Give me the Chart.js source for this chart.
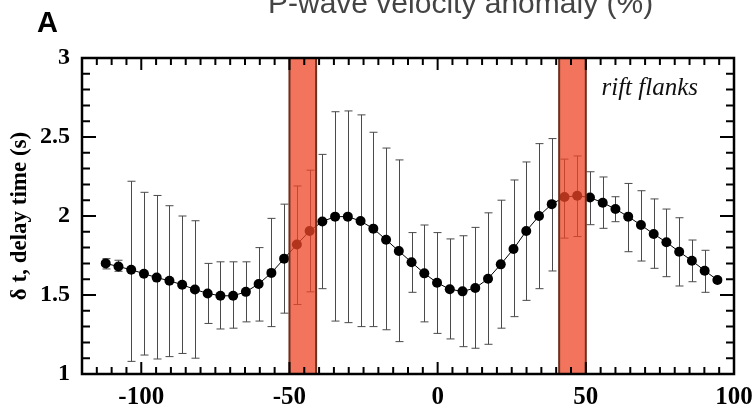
<!DOCTYPE html>
<html>
<head>
<meta charset="utf-8">
<script src="https://cdn.jsdelivr.net/npm/chart.js@4.4.1/dist/chart.umd.min.js"></script>
<style>
  body { margin: 0; background: #fff; }
</style>
</head>
<body>
<canvas id="myChart" width="753" height="408"></canvas>
<script>
// distance along profile (km)
const xPos = [-112, -107.7, -103.4, -99.1, -94.8, -90.5, -86.2, -81.9, -77.6, -73.3,
  -69, -64.7, -60.4, -56.1, -51.8, -47.5, -43.2, -38.9, -34.6, -30.3,
  -26, -21.7, -17.4, -13.1, -8.8, -4.5, -0.2, 4.1, 8.4, 12.7,
  17, 21.3, 25.6, 29.9, 34.2, 38.5, 42.8, 47.1, 51.4, 55.7,
  60, 64.3, 68.6, 72.9, 77.2, 81.5, 85.8, 90.1, 94.4]
// delay time (s)
const delay = [1.70, 1.68, 1.66, 1.635, 1.61, 1.59, 1.565, 1.535, 1.51, 1.495,
  1.495, 1.52, 1.57, 1.64, 1.73, 1.82, 1.905, 1.965, 1.996, 1.996,
  1.968, 1.92, 1.85, 1.778, 1.707, 1.637, 1.578, 1.536, 1.523, 1.544,
  1.603, 1.694, 1.791, 1.905, 2.0, 2.075, 2.12, 2.128, 2.117, 2.084,
  2.044, 1.996, 1.943, 1.886, 1.834, 1.774, 1.717, 1.654, 1.595]
// error bar top / bottom
const errHi = [1.73, 1.72, 2.22, 2.15, 2.13, 2.065, 2.0, 1.97, 1.70, 1.71,
  1.71, 1.71, 1.80, 1.985, 2.075, 2.19, 2.29, 2.39, 2.66, 2.665,
  2.64, 2.53, 2.43, 2.355, 1.895, 1.943, 1.895, 1.855, 1.875, 1.928,
  2.02, 2.10, 2.228, 2.342, 2.458, 2.49, 2.36, 2.38, 2.28, 2.247,
  2.122, 2.206, 2.16, 2.108, 2.044, 1.989, 1.848, 1.783, 1.61]
const errLo = [1.665, 1.65, 1.08, 1.12, 1.095, 1.11, 1.13, 1.10, 1.32, 1.285,
  1.29, 1.33, 1.335, 1.30, 1.385, 1.44, 1.52, 1.54, 1.335, 1.325,
  1.30, 1.30, 1.28, 1.205, 1.517, 1.33, 1.257, 1.222, 1.173, 1.163,
  1.188, 1.29, 1.363, 1.466, 1.54, 1.652, 1.86, 1.87, 1.945, 1.922,
  1.964, 1.774, 1.715, 1.669, 1.616, 1.557, 1.584, 1.517, 1.58]
// rift shaded bands
const bands = [[-50, -41], [41, 50]]
const xTicks = [-100, -50, 0, 50, 100]

const puntos = xPos.map((x, i) => ({ x: x, y: delay[i] }))

// plot frame taken from the scales themselves
const marco = (chart) => {
    const sx = chart.scales.x
    const sy = chart.scales.y
    return {
        left: sx.getPixelForValue(sx.min),
        right: sx.getPixelForValue(sx.max),
        top: sy.getPixelForValue(sy.max),
        bottom: sy.getPixelForValue(sy.min)
    }
}

const extras = {
    id: 'extras',
    beforeDatasetsDraw(chart) {
        const ctx = chart.ctx
        const sx = chart.scales.x
        const sy = chart.scales.y
        ctx.save()
        ctx.strokeStyle = '#4a4a4a'
        ctx.lineWidth = 1
        for (let i = 0; i < xPos.length; i++) {
            const px = Math.round(sx.getPixelForValue(xPos[i])) + 0.5
            const top = sy.getPixelForValue(errHi[i])
            const bot = sy.getPixelForValue(errLo[i])
            ctx.beginPath()
            ctx.moveTo(px, top); ctx.lineTo(px, bot)
            ctx.moveTo(px - 4, top); ctx.lineTo(px + 4, top)
            ctx.moveTo(px - 4, bot); ctx.lineTo(px + 4, bot)
            ctx.stroke()
        }
        ctx.restore()
    },
    afterDatasetsDraw(chart) {
        const ctx = chart.ctx
        const sx = chart.scales.x
        const sy = chart.scales.y
        const a = marco(chart)
        ctx.save()
        // bands over the points
        bands.forEach(b => {
            const l = sx.getPixelForValue(b[0])
            const r = sx.getPixelForValue(b[1])
            ctx.fillStyle = 'rgba(238, 70, 38, 0.75)'
            ctx.fillRect(l, a.top, r - l, a.bottom - a.top)
            ctx.strokeStyle = '#6e3020'
            ctx.lineWidth = 2
            ctx.beginPath()
            ctx.moveTo(l, a.top); ctx.lineTo(l, a.bottom)
            ctx.moveTo(r, a.top); ctx.lineTo(r, a.bottom)
            ctx.stroke()
        })
        // ticks, inward on all four sides
        ctx.strokeStyle = '#000'
        ctx.lineWidth = 2
        ctx.beginPath()
        for (let v = -120; v <= 100; v += 5) {
            const px = sx.getPixelForValue(v)
            const len = (v % 50 === 0) ? 12 : 7
            ctx.moveTo(px, a.bottom); ctx.lineTo(px, a.bottom - len)
            ctx.moveTo(px, a.top); ctx.lineTo(px, a.top + len)
        }
        for (let k = 10; k <= 30; k++) {
            const py = sy.getPixelForValue(k / 10)
            const len = (k % 5 === 0) ? 14 : 8
            ctx.moveTo(a.left, py); ctx.lineTo(a.left + len, py)
            ctx.moveTo(a.right, py); ctx.lineTo(a.right - len, py)
        }
        ctx.stroke()
        ctx.lineWidth = 2.5
        ctx.strokeRect(a.left, a.top, a.right - a.left, a.bottom - a.top)
        // x tick labels
        ctx.fillStyle = '#000'
        ctx.font = 'bold 25px "Liberation Serif"'
        ctx.textAlign = 'center'
        ctx.textBaseline = 'alphabetic'
        xTicks.forEach(v => {
            ctx.fillText(v.toString(), sx.getPixelForValue(v), a.bottom + 30)
        })
        // label
        ctx.fillStyle = '#111'
        ctx.font = 'italic 25px "Liberation Serif"'
        ctx.textAlign = 'right'
        ctx.fillText('rift flanks', a.right - 36, a.top + 37)
        ctx.restore()
    },
    afterDraw(chart) {
        const ctx = chart.ctx
        ctx.save()
        ctx.fillStyle = '#000'
        ctx.font = 'bold 29px "Liberation Sans"'
        ctx.textAlign = 'left'
        ctx.textBaseline = 'alphabetic'
        ctx.fillText('A', 37, 32)
        ctx.fillStyle = '#444'
        ctx.font = '30px "Liberation Sans"'
        ctx.fillText('P-wave velocity anomaly (%)', 268, 13)
        ctx.restore()
    }
}

const ctx = document.getElementById('myChart')
const myChart = new Chart(ctx, {
    type: 'scatter',
    data: {
        datasets: [{
            data: puntos,
            showLine: true,
            clip: false,
            borderColor: '#000',
            borderWidth: 1,
            pointRadius: 5,
            pointBackgroundColor: '#000',
            pointBorderColor: '#000',
            pointBorderWidth: 0
        }]
    },
    options: {
        responsive: false,
        animation: false,
        devicePixelRatio: 1,
        layout: { padding: { top: 58, right: 19, left: 0, bottom: 0 } },
        plugins: { legend: { display: false }, tooltip: { enabled: false } },
        scales: {
            x: {
                type: 'linear',
                min: -120,
                max: 100,
                afterBuildTicks: s => { s.ticks = xTicks.map(v => ({ value: v })) },
                afterFit: s => { s.height = 34 },
                grid: { display: false },
                border: { display: false },
                ticks: { display: false }
            },
            y: {
                min: 1,
                max: 3,
                afterFit: s => { s.width = 82 },
                grid: { display: false },
                border: { display: false },
                ticks: {
                    stepSize: 0.5,
                    color: '#000',
                    padding: 4,
                    callback: v => v.toString(),
                    font: { family: '"Liberation Serif"', size: 24, weight: 'bold' }
                },
                title: {
                    display: true,
                    text: 'δ t, delay time (s)',
                    color: '#000',
                    padding: { top: 6, bottom: 0 },
                    font: { family: '"Liberation Serif"', size: 23, weight: 'bold' }
                }
            }
        }
    },
    plugins: [extras]
})
</script>
</body>
</html>
